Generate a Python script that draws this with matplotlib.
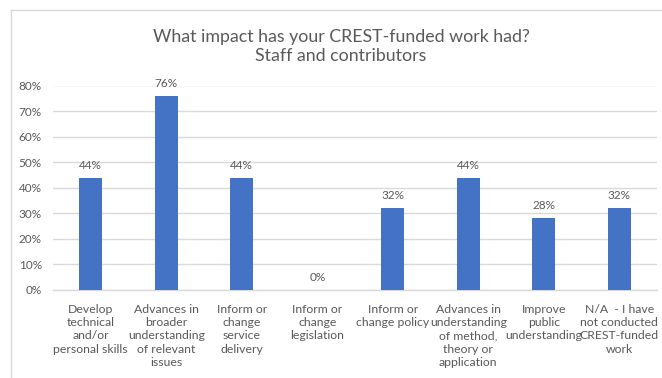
import matplotlib
matplotlib.use("Agg")
import matplotlib.pyplot as plt
from matplotlib.lines import Line2D

categories = [
    "Develop\ntechnical\nand/or\npersonal skills",
    "Advances in\nbroader\nunderstanding\nof relevant\nissues",
    "Inform or\nchange\nservice\ndelivery",
    "Inform or\nchange\nlegislation",
    "Inform or\nchange policy",
    "Advances in\nunderstanding\nof method,\ntheory or\napplication",
    "Improve\npublic\nunderstanding",
    "N/A  - I have\nnot conducted\nCREST-funded\nwork",
]
values = [44, 76, 44, 0, 32, 44, 28, 32]
yticks = [0, 10, 20, 30, 40, 50, 60, 70, 80]
title = "What impact has your CREST-funded work had?\nStaff and contributors"

W, H = 662, 378
fig = plt.figure(figsize=(W / 100, H / 100), dpi=100)
plt.rcParams['font.family'] = ['Lato', 'DejaVu Sans']
txt = '#595959'
grid = '#d9d9d9'

ax = fig.add_axes([53 / W, 1 - 290 / H, (657 - 53) / W, (290 - 85.5) / H])
x = list(range(len(categories)))
ax.bar(x, values, width=0.31, color='#4472C4', zorder=3)
ax.set_xlim(-0.5, len(categories) - 0.5)
ax.set_ylim(0, 80)
ax.set_yticks(yticks)
ax.set_yticklabels([f"{v}%" for v in yticks], color=txt, fontsize=8.5)
ax.set_xticks(x)
ax.set_xticklabels(categories, color=txt, fontsize=8.8, linespacing=1.25, va='top')
ax.tick_params(axis='both', length=0)
ax.tick_params(axis='y', pad=8)
ax.tick_params(axis='x', pad=10)
ax.grid(axis='y', color=grid, linewidth=1, zorder=0)
for s in ['top', 'right', 'left']:
    ax.spines[s].set_visible(False)
ax.spines['bottom'].set_color(grid)
ax.spines['bottom'].set_linewidth(1)

for xi, v in zip(x, values):
    ax.annotate(f"{v}%", (xi, v), xytext=(0, 5), textcoords='offset points',
                ha='center', va='bottom', color=txt, fontsize=8.5)

fig.text(341 / W, 1 - 46.5 / H, title, ha='center', va='center',
         fontsize=12.8, color=txt, linespacing=1.3)

fig.add_artist(Line2D([11 / W, 11 / W], [0, 1 - 9.5 / H], transform=fig.transFigure,
                      color=grid, linewidth=1))
fig.add_artist(Line2D([11 / W, 1], [1 - 9.5 / H, 1 - 9.5 / H], transform=fig.transFigure,
                      color=grid, linewidth=1))

fig.savefig("out.png", dpi=100, facecolor='white')
